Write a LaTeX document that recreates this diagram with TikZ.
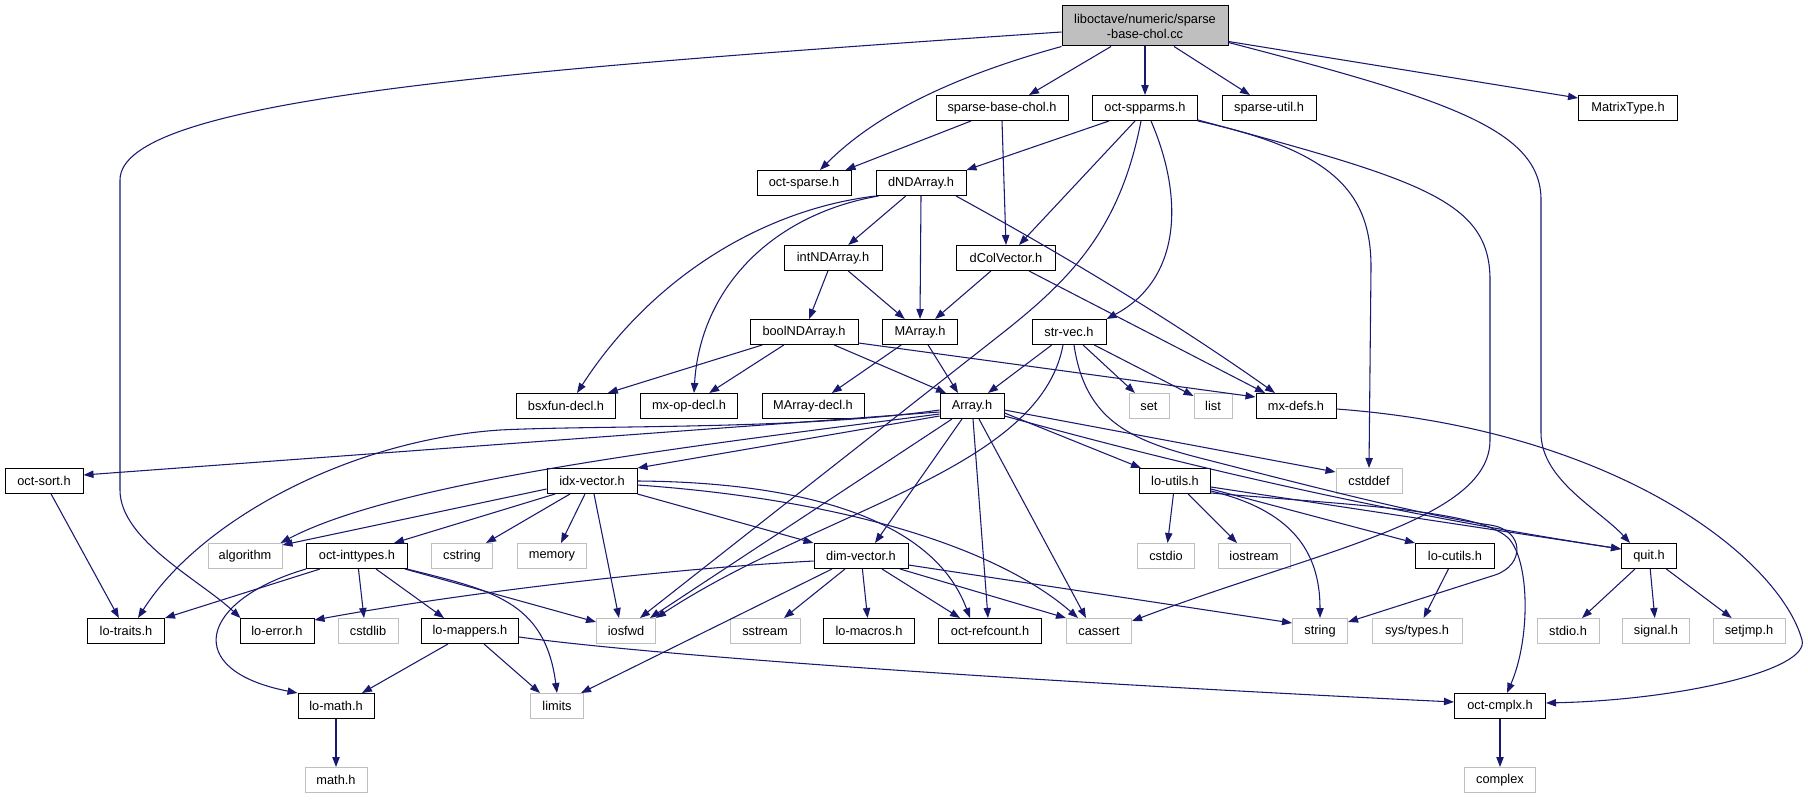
\documentclass[tikz,border=0pt]{standalone}
\usepackage{fontspec}
\setmainfont{Liberation Sans}
\usetikzlibrary{arrows.meta}
\definecolor{edgec}{HTML}{191970}
\definecolor{sysgray}{HTML}{BFBFBF}
\definecolor{rootfill}{HTML}{BFBFBF}
\begin{document}
\begin{tikzpicture}[x=0.75pt,y=-0.75pt,
  box/.style={draw=black, line width=0.75pt, fill=white, inner sep=0pt,
    minimum height=18.75pt, font=\fontsize{9.6}{11.25}\selectfont, text=black},
  sys/.style={box, draw=sysgray},
  w/.style={minimum width=#1*0.75pt},
  e/.style={draw=edgec, line width=0.8pt, -{Triangle[length=7.5pt,width=5.5pt]}}]
\fill[white] (0,0) rectangle (1808,799);
\useasboundingbox (0,0) rectangle (1808,799);
% row 0
\node[box, fill=rootfill, w=166, minimum height=30pt, align=center] (root) at (1145,26) {liboctave/numeric/sparse\\-base-chol.cc};
% row 1
\node[box, w=132] (sbch) at (1002,108) {sparse-base-chol.h};
\node[box, w=105] (spparms) at (1145,108) {oct-spparms.h};
\node[box, w=94] (sutil) at (1269,108) {sparse-util.h};
\node[box, w=99] (mtype) at (1628,108) {MatrixType.h};
% row 2
\node[box, w=94] (osparse) at (804,183) {oct-sparse.h};
\node[box, w=90] (dnd) at (921,183) {dNDArray.h};
% row 3
\node[box, w=98] (intnd) at (833,258) {intNDArray.h};
\node[box, w=99] (dcol) at (1006,258) {dColVector.h};
% row 4
\node[box, w=108] (boolnd) at (804,332) {boolNDArray.h};
\node[box, w=75] (marray) at (920,332) {MArray.h};
\node[box, w=74] (strvec) at (1069,332) {str-vec.h};
% row 5
\node[box, w=99] (bsx) at (566,406) {bsxfun-decl.h};
\node[box, w=97] (mxop) at (689,406) {mx-op-decl.h};
\node[box, w=102] (mad) at (813,406) {MArray-decl.h};
\node[box, w=64] (array) at (972,406) {Array.h};
\node[sys, w=40] (set) at (1149,406) {set};
\node[sys, w=38] (list) at (1213,406) {list};
\node[box, w=80] (mxdefs) at (1296,406) {mx-defs.h};
% row 6
\node[box, w=78] (osort) at (44,481) {oct-sort.h};
\node[box, w=90] (idx) at (592,481) {idx-vector.h};
\node[box, w=71] (loutils) at (1175,481) {lo-utils.h};
\node[sys, w=66] (cstddef) at (1369,481) {cstddef};
% row 7
\node[sys, w=74] (algorithm) at (245,556) {algorithm};
\node[box, w=101] (inttypes) at (357,556) {oct-inttypes.h};
\node[sys, w=61] (cstring) at (462,556) {cstring};
\node[sys, w=69] (memory) at (552,556) {memory};
\node[box, w=94] (dimvec) at (861,556) {dim-vector.h};
\node[sys, w=57] (cstdio) at (1166,556) {cstdio};
\node[sys, w=72] (iostream) at (1254,556) {iostream};
\node[box, w=79] (locutils) at (1455,556) {lo-cutils.h};
\node[box, w=55] (quit) at (1649,556) {quit.h};
% row 8
\node[box, w=77] (lotraits) at (126,631) {lo-traits.h};
\node[box, w=74] (loerror) at (277,631) {lo-error.h};
\node[sys, w=60] (cstdlib) at (368,631) {cstdlib};
\node[box, w=97] (lomappers) at (470,631) {lo-mappers.h};
\node[sys, w=59] (iosfwd) at (626,631) {iosfwd};
\node[sys, w=70] (sstream) at (765,631) {sstream};
\node[box, w=91] (lomacros) at (869,631) {lo-macros.h};
\node[box, w=103] (refcount) at (990,631) {oct-refcount.h};
\node[sys, w=65] (cassert) at (1099,631) {cassert};
\node[sys, w=55] (string) at (1320,631) {string};
\node[sys, w=90] (systypes) at (1417,631) {sys/types.h};
\node[sys, w=62] (stdio) at (1568,631) {stdio.h};
\node[sys, w=67] (signal) at (1656,631) {signal.h};
\node[sys, w=72] (setjmp) at (1749,631) {setjmp.h};
% row 9
\node[box, w=76] (lomath) at (336,706) {lo-math.h};
\node[sys, w=53] (limits) at (557,706) {limits};
\node[box, w=91] (cmplx) at (1500,706) {oct-cmplx.h};
% row 10
\node[sys, w=62] (mathh) at (336,780) {math.h};
\node[sys, w=71] (complex) at (1500,780) {complex};

% ---- root edges
\draw[e] ([shift={(0,6)}]root.west) .. controls (500,70) and (120,100) .. (120,180) -- (120,490) .. controls (120,540) and (200,580) .. ([shift={(1,0)}]loerror.north west);
\draw[e] (root.south west) .. controls (940,80) and (870,120) .. ([shift={(16,0)}]osparse.north);
\draw[e] ([shift={(-34,0)}]root.south) -- ([shift={(27,0)}]sbch.north);
\draw[e] (root.south) -- (spparms.north);
\draw[e] ([shift={(29,0)}]root.south) -- ([shift={(-19,0)}]sutil.north);
\draw[e] ([shift={(0,-5)}]root.south east) -- ([shift={(0,-10)}]mtype.west);
\draw[e] ([shift={(0,-4)}]root.south east) .. controls (1450,100) and (1541,130) .. (1541,200) -- (1541,433) .. controls (1541,480) and (1600,510) .. ([shift={(-19,0)}]quit.north);
% ---- sparse-base-chol.h
\draw[e] ([shift={(-31,0)}]sbch.south) -- ([shift={(-6,0)}]osparse.north east);
\draw[e] (sbch.south) -- (dcol.north);
% ---- oct-spparms.h
\draw[e] ([shift={(-36,0)}]spparms.south) -- (dnd.north east);
\draw[e] ([shift={(-10,0)}]spparms.south) -- ([shift={(13,0)}]dcol.north);
\draw[e] ([shift={(-4,0)}]spparms.south) .. controls (1120,230) and (1070,280) .. (1000,335) -- ([shift={(14,0)}]iosfwd.north);
\draw[e] ([shift={(6,0)}]spparms.south) .. controls (1185,200) and (1180,280) .. (strvec.north east);
\draw[e] (spparms.south east) .. controls (1330,150) and (1371,190) .. (1371,267) -- (cstddef.north);
\draw[e] ([shift={(0,-1)}]spparms.south east) .. controls (1420,180) and (1490,200) .. (1490,280) -- (1490,440) .. controls (1490,520) and (1320,550) .. ([shift={(0,3)}]cassert.north east);
% ---- dNDArray.h
\draw[e] (dnd) -- (intnd);
\draw[e] (dnd.south) -- (marray.north);
\draw[e] ([shift={(35,0)}]dnd.south) .. controls (1100,275) and (1200,340) .. ([shift={(-21,0)}]mxdefs.north);
\draw[e] (dnd.south west) .. controls (760,210) and (650,280) .. ([shift={(11,0)}]bsx.north);
\draw[e] ([shift={(3,0)}]dnd.south west) .. controls (770,215) and (700,290) .. ([shift={(5,0)}]mxop.north);
% ---- intNDArray.h
\draw[e] (intnd) -- (boolnd);
\draw[e] (intnd) -- (marray);
% ---- dColVector.h
\draw[e] (dcol) -- (marray);
\draw[e] ([shift={(23,0)}]dcol.south) -- ([shift={(-31,0)}]mxdefs.north);
% ---- boolNDArray.h
\draw[e] (boolnd) -- (bsx);
\draw[e] (boolnd) -- (mxop);
\draw[e] (boolnd) -- ([shift={(-26,0)}]array.north);
\draw[e] ([shift={(0,-2)}]boolnd.south east) -- ([shift={(0,-9)}]mxdefs.west);
% ---- MArray.h
\draw[e] (marray) -- (mad);
\draw[e] (marray) -- ([shift={(-14,0)}]array.north);
% ---- str-vec.h
\draw[e] (strvec) -- ([shift={(16,0)}]array.north);
\draw[e] (strvec) -- (set);
\draw[e] (strvec) -- (list);
\draw[e] ([shift={(-6,0)}]strvec.south) .. controls (1040,470) and (820,510) .. (iosfwd.north east);
\draw[e] ([shift={(5,0)}]strvec.south) .. controls (1085,420) and (1130,440) .. (1200,458) .. controls (1290,481) and (1420,515) .. (1490,525) .. controls (1525,530) and (1525,565) .. (1495,575) -- ([shift={(0,-9)}]string.east);
% ---- Array.h
\draw[e] ([shift={(0,4)}]array.west) .. controls (800,430) and (600,425) .. (500,430) .. controls (350,440) and (200,520) .. ([shift={(12,0)}]lotraits.north);
\draw[e] ([shift={(0,6)}]array.west) -- ([shift={(0,-6)}]osort.east);
\draw[e] ([shift={(0,8)}]array.west) .. controls (700,445) and (400,480) .. ([shift={(-2,0)}]algorithm.north east);
\draw[e] ([shift={(0,10)}]array.west) -- (idx.north east);
\draw[e] ([shift={(-20,0)}]array.south) -- ([shift={(24,0)}]iosfwd.north);
\draw[e] ([shift={(-10,0)}]array.south) -- ([shift={(14,0)}]dimvec.north);
\draw[e] ([shift={(1,0)}]array.south) -- ([shift={(-2,0)}]refcount.north);
\draw[e] ([shift={(7,0)}]array.south) -- ([shift={(-13,0)}]cassert.north);
\draw[e] ([shift={(0,4)}]array.east) -- ([shift={(0,-9)}]cstddef.west);
\draw[e] ([shift={(0,7)}]array.east) -- ([shift={(2,0)}]loutils.north west);
\draw[e] ([shift={(0,10)}]array.east) .. controls (1200,470) and (1400,515) .. ([shift={(0,-7)}]quit.west);
% ---- idx-vector.h
\draw[e] ([shift={(0,8)}]idx.west) -- ([shift={(0,2)}]algorithm.north east);
\draw[e] ([shift={(-37,0)}]idx.south) -- ([shift={(37,0)}]inttypes.north);
\draw[e] ([shift={(-22,0)}]idx.south) -- ([shift={(24,0)}]cstring.north);
\draw[e] ([shift={(-7,0)}]idx.south) -- ([shift={(9,0)}]memory.north);
\draw[e] ([shift={(2,0)}]idx.south) -- ([shift={(-7,0)}]iosfwd.north);
\draw[e] (idx.south east) -- (dimvec.north west);
\draw[e] (idx.east) .. controls (780,482) and (930,510) .. ([shift={(-20,0)}]refcount.north);
\draw[e] ([shift={(0,4)}]idx.east) .. controls (850,500) and (1000,550) .. ([shift={(-21,0)}]cassert.north);
% ---- oct-inttypes.h
\draw[e] ([shift={(-37,0)}]inttypes.south) -- (lotraits.north east);
\draw[e] (inttypes.south west) .. controls (200,600) and (180,670) .. (lomath.north west);
\draw[e] (inttypes) -- ([shift={(-4,0)}]cstdlib.north);
\draw[e] ([shift={(19,0)}]inttypes.south) -- ([shift={(-26,0)}]lomappers.north);
\draw[e] ([shift={(-3,0)}]inttypes.south east) -- ([shift={(0,-9)}]iosfwd.west);
\draw[e] ([shift={(-1,0)}]inttypes.south east) .. controls (490,590) and (545,600) .. (limits.north);
% ---- lo-mappers.h
\draw[e] ([shift={(-22,0)}]lomappers.south) -- ([shift={(26,0)}]lomath.north);
\draw[e] ([shift={(14,0)}]lomappers.south) -- ([shift={(-17,0)}]limits.north);
\draw[e] ([shift={(0,6)}]lomappers.east) .. controls (650,655) and (1000,680) .. ([shift={(0,-4)}]cmplx.west);
% ---- lo-math.h, oct-cmplx.h
\draw[e] (lomath) -- (mathh);
\draw[e] (cmplx) -- (complex);
% ---- dim-vector.h
\draw[e] ([shift={(0,5)}]dimvec.west) .. controls (650,570) and (450,595) .. ([shift={(0,2)}]loerror.north east);
\draw[e] ([shift={(-29,0)}]dimvec.south) -- ([shift={(-3,0)}]limits.north east);
\draw[e] ([shift={(-16,0)}]dimvec.south) -- ([shift={(19,0)}]sstream.north);
\draw[e] (dimvec) -- (lomacros);
\draw[e] ([shift={(21,0)}]dimvec.south) -- ([shift={(-30,0)}]refcount.north);
\draw[e] ([shift={(39,0)}]dimvec.south) -- (cassert.north west);
\draw[e] ([shift={(0,9)}]dimvec.east) -- ([shift={(0,-8)}]string.west);
% ---- lo-utils.h
\draw[e] (loutils) -- (cstdio);
\draw[e] ([shift={(13,0)}]loutils.south) -- ([shift={(-17,0)}]iostream.north);
\draw[e] ([shift={(0,8)}]loutils.east) -- (locutils.north west);
\draw[e] ([shift={(0,6)}]loutils.east) -- ([shift={(0,-7)}]quit.west);
\draw[e] ([shift={(0,10)}]loutils.east) .. controls (1290,510) and (1320,550) .. (string.north);
\draw[e] ([shift={(0,12)}]loutils.east) .. controls (1350,505) and (1485,510) .. (1510,540) .. controls (1530,565) and (1530,640) .. ([shift={(7,0)}]cmplx.north);
% ---- others
\draw[e] (locutils) -- (systypes);
\draw[e] (quit) -- (stdio);
\draw[e] (quit) -- (signal);
\draw[e] (quit) -- (setjmp);
\draw[e] (osort) -- (lotraits);
\draw[e] ([shift={(0,3)}]mxdefs.east) .. controls (1620,430) and (1780,560) .. (1802,640) .. controls (1810,670) and (1680,700) .. ([shift={(0,-3)}]cmplx.east);
\end{tikzpicture}
\end{document}
